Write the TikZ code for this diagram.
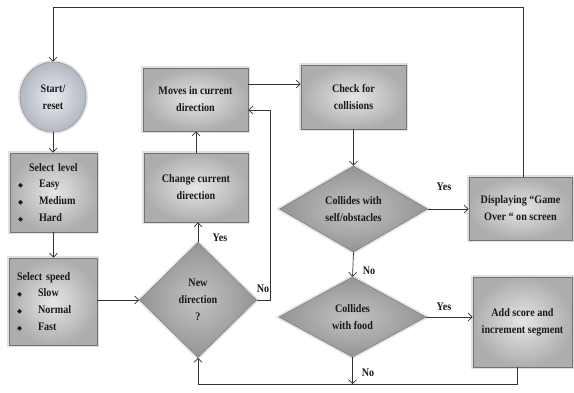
\documentclass[tikz,border=0pt]{standalone}
\usepackage{fontspec}
\setmainfont{Liberation Serif}[FakeStretch=0.88]
\newfontfamily\symfont{DejaVu Sans}
\usetikzlibrary{shapes.geometric,arrows.meta}
\newcommand{\bul}{{\symfont\fontsize{6.5}{6.5}\selectfont ◆}}
\newcommand{\itm}{\makebox[21pt][l]{\bul}}
\definecolor{ovalin}{RGB}{232,235,240}
\definecolor{ovalout}{RGB}{178,184,194}
\tikzset{
  base/.style={font=\bfseries\fontsize{11.5}{17}\selectfont, align=center, inner sep=0pt, text=black!90},
  procbox/.style={base, rectangle, draw=black!55, line width=0.6pt,
    inner color=black!10, outer color=black!32,
    preaction={draw=black!12, line width=4pt}},
  listbox/.style={procbox, align=left, font=\bfseries\fontsize{11.5}{16.7}\selectfont},
  decision/.style={base, diamond, draw=black!50, line width=0.6pt,
    inner color=black!24, outer color=black!42,
    preaction={draw=black!10, line width=4pt}},
  terminal/.style={base, ellipse, draw=black!40, line width=0.6pt,
    inner color=ovalin, outer color=ovalout,
    preaction={draw=black!10, line width=4pt}},
  flow/.style={draw=black!80, line width=0.7pt, -{Straight Barb[length=4pt,width=8pt]}},
  lbl/.style={base}
}
\begin{document}
\begin{tikzpicture}[x=1pt,y=-1pt]
  \fill[white] (0,0) rectangle (574,392);
  \useasboundingbox (0,0) rectangle (574,392);

  % left column
  \node[terminal, minimum width=66pt, minimum height=70pt] (start) at (53,97) {Start/\\reset};
  \node[listbox, minimum height=79pt, text width=71pt, inner xsep=8pt] (level) at (53.5,192.5)
    {\hspace*{11pt}Select level\\ \itm Easy\\ \itm Medium\\ \itm Hard};
  \node[listbox, minimum height=87pt, text width=72pt, inner xsep=8pt] (speed) at (53,301.5)
    {Select speed\\ \itm Slow\\ \itm Normal\\ \itm Fast};

  % middle column
  \node[procbox, minimum width=105pt, minimum height=63pt] (moves) at (195.5,99.5) {Moves in current\\direction};
  \node[procbox, minimum width=104pt, minimum height=69pt] (change) at (196,187.5) {Change current\\direction};
  \node[decision, minimum width=117pt, minimum height=115pt] (newdir) at (198,300) {New\\direction\\?};

  % right columns
  \node[procbox, minimum width=105pt, minimum height=64pt] (check) at (353.5,97) {Check for\\collisions};
  \node[decision, minimum width=148pt, minimum height=86pt] (coll) at (353.5,209) {Collides with\\self/obstacles};
  \node[decision, minimum width=147pt, minimum height=80pt] (food) at (352.5,317) {Collides\\with food};
  \node[procbox, minimum width=103pt, minimum height=63pt] (over) at (520.5,208.5) {Displaying “Game\\Over “ on screen};
  \node[procbox, minimum width=99pt, minimum height=90pt] (score) at (522.5,322) {Add score and\\increment segment};

  % helper points of the loops
  \coordinate (topleft) at (53,7);
  \coordinate (bot) at (198,384);
  \coordinate (rside) at (270,300);

  % connectors
  \draw[flow] ([xshift=2.5pt]over.north) |- (topleft) -- (start.north);
  \draw[flow] (start.south) -- (start.south |- level.north);
  \draw[flow] (level.south) -- (level.south |- speed.north);
  \draw[flow] (speed.east |- newdir.west) -- (newdir.west);
  \draw[flow] (newdir.north) -- (newdir.north |- change.south);
  \draw[flow] (change.north) -- (change.north |- moves.south);
  \draw[flow] (newdir.east) -- (rside) |- ([yshift=-10.5pt]moves.east);
  \draw[flow] ([yshift=15.5pt]moves.east) -- ([yshift=15.5pt]moves.east -| check.west);
  \draw[flow] (check.south -| coll.north) -- (coll.north);
  \draw[flow] (coll.east) -- (coll.east -| over.west);
  \draw[flow] (coll.south) -- (food.north);
  \draw[flow] (food.east) -- (food.east -| score.west);
  \draw[flow] (food.south) -- (food.south |- bot);
  \draw[flow] ([xshift=-5.5pt]score.south) |- (bot) -- (newdir.south);

  % branch labels
  \node[lbl] (ly1) at (220,238) {Yes};
  \node[lbl] (ln1) at (263,289) {No};
  \node[lbl] (ly2) at (444,187) {Yes};
  \node[lbl] (ln2) at (369,271) {No};
  \node[lbl] (ly3) at (444,307) {Yes};
  \node[lbl] (ln3) at (368,373) {No};
\end{tikzpicture}
\end{document}
